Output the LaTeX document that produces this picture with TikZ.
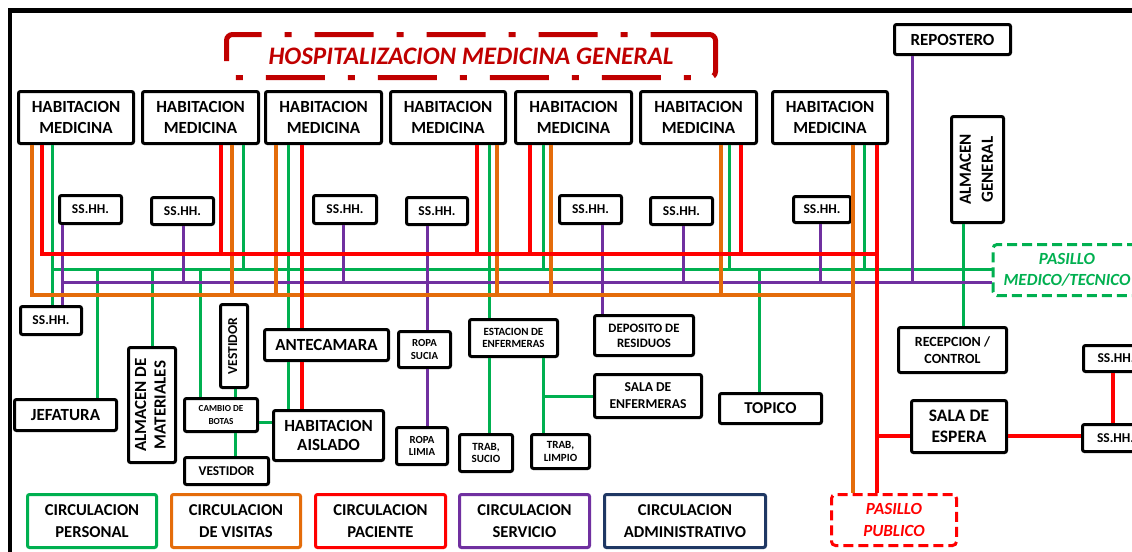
\documentclass[tikz,border=0pt]{standalone}
\usepackage{fontspec}
\usepackage{graphicx}
\setmainfont{Carlito}
\definecolor{cR}{HTML}{FF0000}
\definecolor{cO}{HTML}{E46C0A}
\definecolor{cG}{HTML}{00B050}
\definecolor{cP}{HTML}{7030A0}
\definecolor{cB}{HTML}{1F3864}
\definecolor{cT}{HTML}{C00000}
\tikzset{
  box/.style={draw=black, line width=1.5pt, rounded corners=1pt, fill=white, align=center, inner sep=0pt, text=black},
  fs/.style 2 args={font=\bfseries\fontsize{#1}{#2}\selectfont},
  fsi/.style 2 args={font=\bfseries\itshape\fontsize{#1}{#2}\selectfont},
  dashbox/.style={line width=1.5pt, rounded corners=2pt, dash pattern=on 5pt off 2.5pt, fill=white},
  lr/.style={cR, line width=2pt},
  lo/.style={cO, line width=2pt},
  lg/.style={cG, line width=1.5pt},
  lp/.style={cP, line width=1.5pt}
}
\newcommand\bx[7][]{\node[box,minimum width={(#5-#3-3)*0.5pt},minimum height={(#6-#4-3)*0.5pt},#1] (#2) at ({(#3+#5)/2},{(#4+#6)/2}) {#7};}
\newcommand\rt[1]{\rotatebox{90}{\begin{tabular}{@{}c@{}}#1\end{tabular}}}
\begin{document}
\begin{tikzpicture}[x=0.5pt,y=-0.5pt]
\useasboundingbox (0,0) rectangle (1132,552);
\fill[white] (0,0) rectangle (1132,552);
\draw[line width=2.25pt] (10,10.5) rectangle (1170,590);
% title
\node[draw=cT, line width=2.5pt, rounded corners=3pt, dash pattern=on 29.5pt off 11.5pt on 3.5pt off 11.5pt, minimum width=244.5pt, minimum height=21.5pt, text=cT, fsi={12.6}{15}, inner sep=0pt] (tit) at (471,56) {HOSPITALIZACION MEDICINA GENERAL};
% habitaciones
\bx[fs={8.5}{10.5}]{h1}{17}{90}{135}{145}{HABITACION\\MEDICINA}
\bx[fs={8.5}{10.5}]{h2}{141}{90}{260}{145}{HABITACION\\MEDICINA}
\bx[fs={8.5}{10.5}]{h3}{264}{90}{383}{145}{HABITACION\\MEDICINA}
\bx[fs={8.5}{10.5}]{h4}{389}{90}{507}{145}{HABITACION\\MEDICINA}
\bx[fs={8.5}{10.5}]{h5}{514}{90}{633}{145}{HABITACION\\MEDICINA}
\bx[fs={8.5}{10.5}]{h6}{639}{90}{758}{145}{HABITACION\\MEDICINA}
\bx[fs={8.5}{10.5}]{h7}{771}{90}{889}{145}{HABITACION\\MEDICINA}
% SS.HH.
\bx[fs={6.75}{8}]{s1}{58}{194}{123}{225}{SS.HH.}
\bx[fs={6.75}{8}]{s2}{150}{196}{215}{226}{SS.HH.}
\bx[fs={6.75}{8}]{s3}{312}{194}{378}{225}{SS.HH.}
\bx[fs={6.75}{8}]{s4}{405}{196}{469}{226}{SS.HH.}
\bx[fs={6.75}{8}]{s5}{558}{194}{623}{225}{SS.HH.}
\bx[fs={6.75}{8}]{s6}{649}{196}{714}{226}{SS.HH.}
\bx[fs={6.75}{8}]{s7}{792}{195}{852}{224}{SS.HH.}
\bx[fs={6.75}{8}]{s0}{19}{305}{83}{336}{SS.HH.}
\bx[fs={6.75}{8}]{sRa}{1082}{344}{1150}{373}{SS.HH.}
\bx[fs={6.75}{8}]{sRb}{1081}{423}{1150}{453}{SS.HH.}
% right side
\bx[fs={8.5}{10.5}]{rep}{893}{23}{1012}{56}{REPOSTERO}
\bx[fs={8.5}{11}]{alg}{950}{115}{1005}{224}{\rt{ALMACEN\\GENERAL}}
\node[dashbox, draw=cG, text=cG, fsi={8.5}{10.8}, align=center, minimum width=74pt, minimum height=25.5pt, inner sep=0pt] (pmt) at (1067,270) {PASILLO\\MEDICO/TECNICO};
\bx[fs={7}{8.5}]{rec}{897}{326}{1008}{374}{RECEPCION /\\CONTROL}
\bx[fs={8.75}{10.8}]{esp}{910}{399}{1008}{454}{SALA DE\\ESPERA}
\node[dashbox, draw=cR, text=cR, fsi={8.5}{10.8}, align=center, minimum width=62.5pt, minimum height=25.5pt, inner sep=0pt] (pp) at (894,520) {PASILLO\\PUBLICO};
\bx[fs={8.3}{10}]{top}{718}{392}{823}{425}{TOPICO}
% middle
\bx[fs={5.5}{6.2}]{est}{468}{318}{559}{358}{ESTACION DE\\ENFERMERAS}
\bx[fs={5.5}{6.3}]{tsu}{458}{433}{514}{473}{TRAB,\\SUCIO}
\bx[fs={5.5}{6.3}]{tli}{530}{433}{591}{470}{TRAB,\\LIMPIO}
\bx[fs={6.8}{8.5}]{sen}{593}{373}{703}{419}{SALA DE\\ENFERMERAS}
\bx[fs={6.4}{7.5}]{dep}{593}{314}{695}{357}{DEPOSITO DE\\RESIDUOS}
\bx[fs={5.4}{6.2}]{rsu}{397}{330}{452}{369}{ROPA\\SUCIA}
\bx[fs={5.4}{6.2}]{rli}{395}{426}{449}{466}{ROPA\\LIMIA}
\bx[fs={8.5}{10.5}]{ant}{263}{328}{390}{362}{ANTECAMARA}
\bx[fs={8.5}{9.8}]{hai}{272}{409}{385}{462}{HABITACION\\AISLADO}
\bx[fs={6.8}{8}]{vsa}{219}{303}{249}{389}{\rt{VESTIDOR}}
\bx[fs={4.6}{6.1}]{cam}{183}{397}{259}{433}{CAMBIO DE\\BOTAS}
\bx[fs={6.7}{8}]{vsb}{183}{456}{270}{486}{VESTIDOR}
\bx[fs={8.5}{9.8}]{alm}{127}{346}{177}{464}{\rt{ALMACEN DE\\MATERIALES}}
\bx[fs={8.5}{10.5}]{jef}{13}{398}{118}{432}{JEFATURA}
% legend
\bx[draw=cG,fs={8.3}{11}]{l1}{26}{493}{158}{549}{CIRCULACION\\PERSONAL}
\bx[draw=cO,fs={8.3}{11}]{l2}{170}{493}{302}{549}{CIRCULACION\\DE VISITAS}
\bx[draw=cR,fs={8.3}{11}]{l3}{314}{493}{447}{549}{CIRCULACION\\PACIENTE}
\bx[draw=cP,fs={8.3}{11}]{l4}{458}{493}{591}{549}{CIRCULACION\\SERVICIO}
\bx[draw=cB,fs={8.3}{11}]{l5}{603}{493}{767}{549}{CIRCULACION\\ADMINISTRATIVO}
% bus coordinates
\coordinate (rbE) at (877,254);
\coordinate (gbW) at (52,269);
\coordinate (pbW) at (62,282);
\coordinate (obE) at (853,295);
\coordinate (ey) at (0,436);
% green
\draw[lg] (h1.south -| gbW) -- (s0.north -| gbW);
\draw[lg] (gbW) -- (gbW -| pmt.west);
\foreach \h/\x in {h2/243,h5/543,h6/729,h7/864} \draw[lg] (\h.south -| \x,0) -- (\x,0 |- gbW);
\draw[lg] (h3.south -| 288,0) -- (ant.north -| 288,0);
\draw[lg] (ant.south -| 288,0) -- (hai.north -| 288,0);
\draw[lg] (h4.south -| 489,0) -- (est.north -| 489,0);
\draw[lg] (97,0 |- gbW) -- (jef.north -| 97,0);
\draw[lg] (152,0 |- gbW) -- (alm.north -| 152,0);
\draw[lg] (200,0 |- gbW) -- (cam.north -| 200,0);
\draw[lg] (759,0 |- gbW) -- (top.north -| 759,0);
\draw[lg] (alg.south -| 963,0) -- (rec.north -| 963,0);
\draw[lg] (vsa.south -| 235,0) -- (cam.north -| 235,0);
\draw[lg] (cam.south -| 235,0) -- (vsb.north -| 235,0);
\draw[lg] (cam.east |- 0,422) -- (hai.west |- 0,422);
\draw[lg] (est.south -| 489,0) -- (tsu.north -| 489,0);
\draw[lg] (est.south -| 543,0) -- (tli.north -| 543,0);
\draw[lg] (543,0 |- sen.west) -- (sen.west);
% purple
\draw[lp] (s1.south -| pbW) -- (s0.north -| pbW);
\draw[lp] (pbW) -- (pbW -| pmt.west);
\foreach \s/\x in {s2/183,s3/343,s6/683,s7/820} \draw[lp] (\s.south -| \x,0) -- (\x,0 |- pbW);
\draw[lp] (rep.south -| 912,0) -- (912,0 |- pbW);
\draw[lp] (s4.south -| 427,0) -- (rsu.north -| 427,0);
\draw[lp] (rsu.south -| 427,0) -- (rli.north -| 427,0);
\draw[lp] (s5.south -| 602,0) -- (dep.north -| 602,0);
% orange
\draw[lo] (h1.south -| 32,0) |- (obE);
\foreach \h/\x in {h2/232,h3/276,h4/497,h5/551,h6/721} \draw[lo] (\h.south -| \x,0) -- (\x,0 |- obE);
\draw[lo] (h7.south -| obE) -- (pp.north -| obE);
% red
\draw[lr] (h1.south -| 42,0) |- (rbE);
\foreach \h/\x in {h2/221,h4/477,h5/530,h6/741} \draw[lr] (\h.south -| \x,0) -- (\x,0 |- rbE);
\draw[lr] (h3.south -| 302,0) -- (ant.north -| 302,0);
\draw[lr] (ant.south -| 302,0) -- (hai.north -| 302,0);
\draw[lr] (h7.south -| rbE) -- (pp.north -| rbE);
\draw[lr] (ey -| rbE) -- (ey -| esp.west);
\draw[lr] (ey -| esp.east) -- (ey -| sRb.west);
\draw[lr] (sRa.south -| 1113,0) -- (sRb.north -| 1113,0);
\end{tikzpicture}
\end{document}
